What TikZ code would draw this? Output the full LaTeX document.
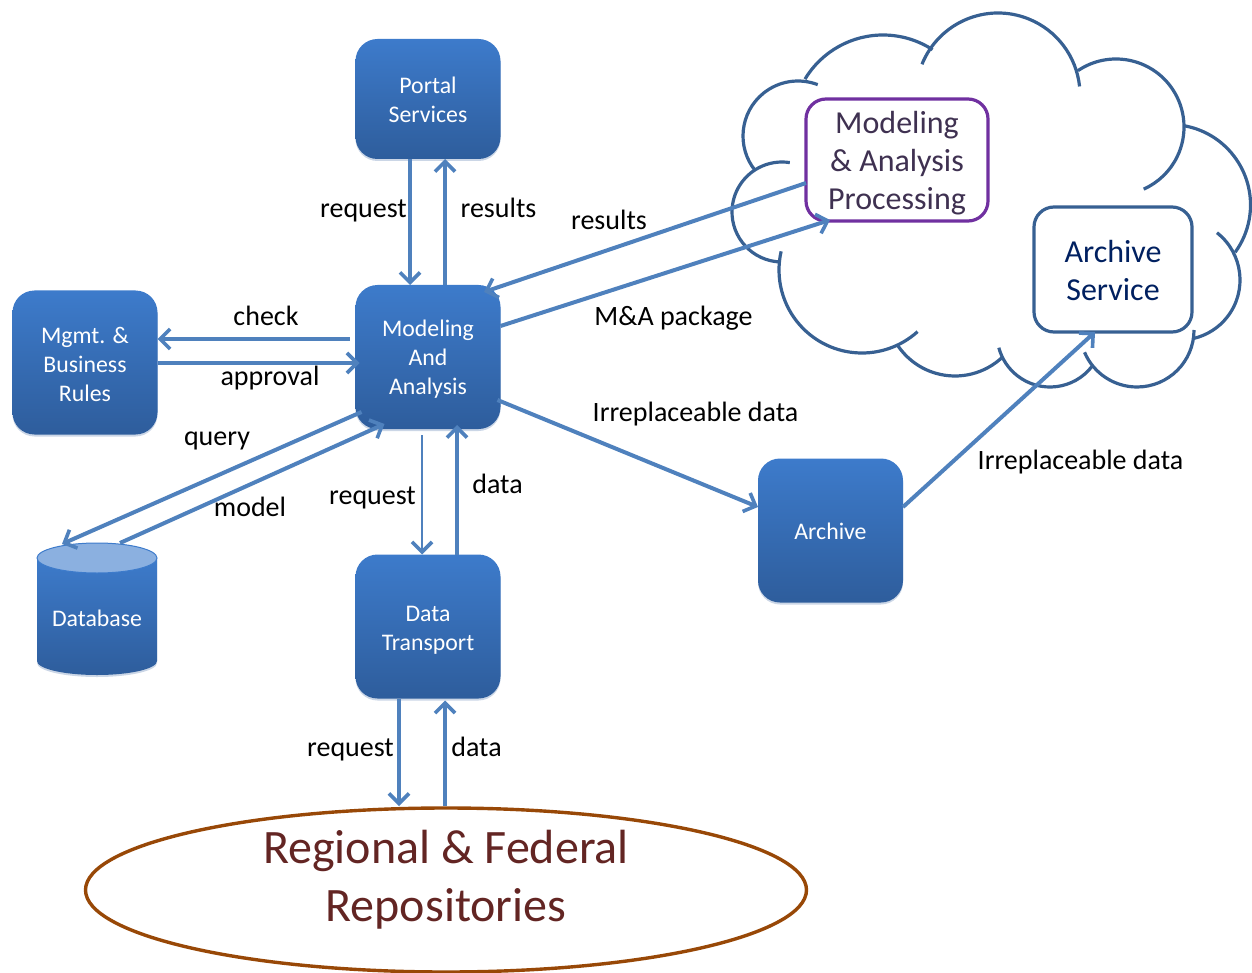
\documentclass[tikz,border=0pt]{standalone}
\usepackage{fontspec}
\setmainfont{Carlito}
\usetikzlibrary{arrows.meta,shapes.geometric,shadows}
\definecolor{arrowblue}{HTML}{4F81BD}
\definecolor{boxtop}{HTML}{3D7BCB}
\definecolor{boxbot}{HTML}{2E5D9C}
\definecolor{cloudblue}{HTML}{376092}
\definecolor{procpurple}{HTML}{7030A0}
\newcommand{\lobearc}[5]{\draw[lobe] (#1,#2) ++(#4:#3) arc[start angle=#4,end angle=#5,radius=#3];}
\tikzset{
  bluebox/.style={rounded corners=22pt,top color=boxtop,bottom color=boxbot,draw=none,
    minimum width=145pt,inner sep=0pt,outer sep=0pt,
    drop shadow={shadow xshift=0pt,shadow yshift=-2pt,opacity=.25,fill=boxbot}},
  btext/.style={text=white,align=center,inner sep=0pt,font=\fontsize{23.8}{29}\selectfont},
  conn/.style={draw=arrowblue,line width=4pt,-{Straight Barb[length=10pt,width=20pt,line width=3.6pt]}},
  thinconn/.style={conn,line width=2.6pt},
  lbl/.style={anchor=base,inner sep=0pt,text=black,font=\fontsize{28}{34}\selectfont},
  lobe/.style={draw=cloudblue,line width=3.2pt},
}
\begin{document}
\begin{tikzpicture}[x=1pt,y=-1pt]
\useasboundingbox (0,0) rectangle (1252,973);
% cloud
\lobearc{798}{136}{55}{141}{291}
\lobearc{883}{126}{91}{211}{303}
\lobearc{998}{95}{82}{202}{354}
\lobearc{1116}{127}{68}{236}{426}
\lobearc{1170}{205}{80.5}{280}{396}
\lobearc{1180}{280}{60}{-52}{77}
\lobearc{1137}{330}{57}{0}{157}
\lobearc{1050}{334}{53}{38}{165}
\lobearc{955}{307}{69}{46}{146}
\lobearc{862}{270}{83}{48}{193}
\lobearc{782}{212}{50}{92}{279}
% boxes
\node[bluebox,minimum height=120pt,label={[btext,yshift=-1pt]center:{Portal\\Services}}] (portal) at (428,99) {};
\node[bluebox,minimum height=144pt,label={[btext,yshift=-1.5pt]center:{Mgmt. \&\\Business\\Rules}}] (mgmt) at (85,362.5) {};
\node[bluebox,minimum height=144pt,label={[btext,yshift=-2.5pt]center:{Modeling\\And\\Analysis}}] (ma) at (428,357) {};
\node[bluebox,minimum height=144pt,label={[btext,yshift=-4pt]center:{Data\\Transport}}] (dt) at (428,626.5) {};
\node[bluebox,minimum height=144pt,label={[btext,yshift=-1pt]center:{Archive}}] (arch) at (830.5,530.5) {};
% database
\path[top color=boxtop,bottom color=boxbot,drop shadow={shadow xshift=0pt,shadow yshift=-2pt,opacity=.25,fill=boxbot}]
  (37,558) -- (37,661) arc[start angle=180,end angle=360,x radius=60,y radius=-14] -- (157,558) -- cycle;
\filldraw[fill=boxtop!60!white,draw=boxtop,line width=1pt] (97,558) ellipse[x radius=60,y radius=15];
\node[btext] (db) at (97,618) {Database};
\coordinate (dbtop) at (97,543);
% white boxes
\node[draw=procpurple,line width=3.2pt,rounded corners=20pt,fill=white,minimum width=182pt,minimum height=122pt,inner sep=0pt,outer sep=0pt,
  label={[align=center,inner sep=0pt,yshift=-3.5pt,text={rgb,255:red,63;green,49;blue,81},font=\fontsize{32}{38}\selectfont]center:{Modeling\\\& Analysis\\Processing}}] (proc) at (897,160) {};
\node[draw=cloudblue,line width=3.2pt,rounded corners=20pt,fill=white,minimum width=158pt,minimum height=125pt,inner sep=0pt,outer sep=0pt,
  label={[align=center,inner sep=0pt,yshift=-1pt,text={rgb,255:red,0;green,32;blue,96},font=\fontsize{32}{38}\selectfont]center:{Archive\\Service}}] (svc) at (1113,269.5) {};
% repository
\node[ellipse,draw={rgb,255:red,152;green,72;blue,7},line width=3.4pt,minimum width=721pt,minimum height=164pt,inner sep=0pt,outer sep=0pt] (repo) at (446,890) {};
\node[inner sep=0pt,align=center,text={rgb,255:red,99;green,37;blue,35},font=\fontsize{48}{58}\selectfont] (repotext) at (446,880) {Regional \& Federal\\Repositories};
% connectors
\draw[conn] ([xshift=-18]portal.south) -- ([xshift=-18]ma.north);
\draw[conn] ([xshift=17]ma.north) -- ([xshift=17]portal.south);
\draw[conn] ([yshift=-23]proc.west) -- ([xshift=56,yshift=-7]ma.north);
\draw[conn] ([yshift=31]ma.east) -- ([xshift=-67,yshift=1]proc.south);
\draw[conn] ([xshift=-6,yshift=18]ma.west) -- ([yshift=23.5]mgmt.east);
\draw[conn] ([yshift=-0.5]mgmt.east) -- ([xshift=4,yshift=-6]ma.west);
\draw[conn] ([xshift=6,yshift=17]ma.south west) -- ([xshift=-35,yshift=-1]dbtop);
\draw[conn] ([xshift=23]dbtop) -- ([xshift=29,yshift=5]ma.south west);
\draw[thinconn] ([xshift=-6,yshift=-6]ma.south) -- ([xshift=-6]dt.north);
\draw[conn] ([xshift=29]dt.north) -- ([xshift=29,yshift=4]ma.south);
\draw[conn] ([xshift=-3,yshift=-43]ma.east) -- ([yshift=23.5]arch.west);
\draw[conn] ([yshift=23.5]arch.east) -- ([xshift=-18]svc.south);
\draw[conn] ([xshift=-29]dt.south) -- ([xshift=-47,yshift=2]repo.north);
\draw[conn] ([xshift=-1,yshift=2]repo.north) -- ([xshift=17,yshift=-2]dt.south);
% labels
\node[lbl] (l1) at (363.5,217.5) {request};
\node[lbl] (l2) at (498.5,217.5) {results};
\node[lbl] (l3) at (609,229.5) {results};
\node[lbl] (l4) at (673.5,326) {M\&A package};
\node[lbl] (l5) at (266,326) {check};
\node[lbl] (l6) at (270,385) {approval};
\node[lbl] (l7) at (217,445) {query};
\node[lbl] (l8) at (250,516) {model};
\node[lbl] (l9) at (372.5,504) {request};
\node[lbl] (l10) at (497.5,493) {data};
\node[lbl] (l11) at (695.5,421) {Irreplaceable data};
\node[lbl] (l12) at (1080.5,469) {Irreplaceable data};
\node[lbl] (l13) at (350.5,756) {request};
\node[lbl] (l14) at (476.5,756) {data};
\end{tikzpicture}
\end{document}
